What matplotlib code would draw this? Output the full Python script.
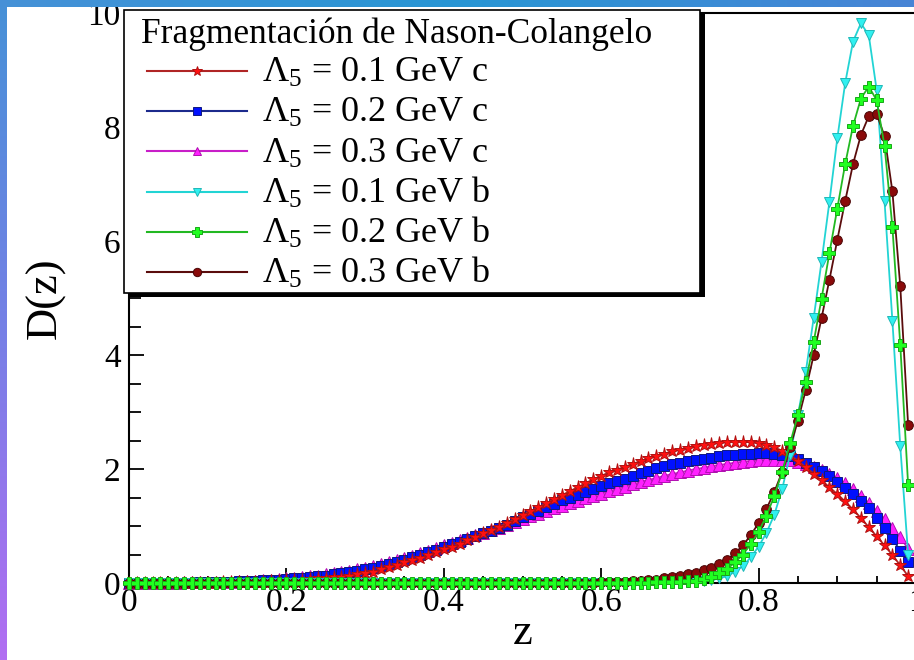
import numpy as np
import matplotlib
matplotlib.use("Agg")
import matplotlib.pyplot as plt
from matplotlib.patches import Rectangle
from matplotlib.lines import Line2D
from matplotlib.ticker import MultipleLocator

plt.rcParams["font.family"] = ["Liberation Serif", "DejaVu Serif"]
plt.rcParams["mathtext.fontset"] = "custom"
plt.rcParams["mathtext.rm"] = "Liberation Serif"
plt.rcParams["mathtext.it"] = "Liberation Serif:italic"
plt.rcParams["mathtext.bf"] = "Liberation Serif:bold"

W, H, DPI = 914, 660, 100

# momentum fraction grid
z = np.linspace(0.0, 0.99, 100)

# charm, Lambda_5 = 0.1 GeV
d_c01 = [0.00, 0.00, 0.00, 0.00, 0.00, 0.00, 0.00, 0.00, 0.00, 0.00,
         0.00, 0.00, 0.01, 0.01, 0.01, 0.02, 0.02, 0.02, 0.03, 0.04,
         0.05, 0.05, 0.06, 0.07, 0.08, 0.09, 0.10, 0.11, 0.13, 0.15,
         0.17, 0.20, 0.24, 0.28, 0.32, 0.36, 0.40, 0.44, 0.49, 0.54,
         0.59, 0.64, 0.69, 0.75, 0.81, 0.87, 0.93, 0.99, 1.05, 1.12,
         1.19, 1.26, 1.33, 1.40, 1.47, 1.54, 1.61, 1.68, 1.75, 1.82,
         1.88, 1.94, 1.99, 2.04, 2.09, 2.14, 2.19, 2.23, 2.27, 2.31,
         2.34, 2.37, 2.40, 2.42, 2.44, 2.46, 2.47, 2.48, 2.48, 2.47,
         2.45, 2.42, 2.38, 2.32, 2.25, 2.14, 2.03, 1.92, 1.80, 1.68,
         1.56, 1.43, 1.29, 1.14, 0.98, 0.82, 0.66, 0.49, 0.31, 0.12]

# charm, Lambda_5 = 0.2 GeV
d_c02 = [0.00, 0.00, 0.00, 0.00, 0.00, 0.00, 0.00, 0.00, 0.00, 0.01,
         0.01, 0.01, 0.02, 0.02, 0.03, 0.03, 0.04, 0.05, 0.06, 0.06,
         0.07, 0.08, 0.09, 0.10, 0.12, 0.13, 0.15, 0.17, 0.19, 0.21,
         0.24, 0.27, 0.30, 0.34, 0.37, 0.41, 0.45, 0.49, 0.54, 0.58,
         0.63, 0.68, 0.72, 0.77, 0.82, 0.87, 0.92, 0.97, 1.02, 1.08,
         1.15, 1.21, 1.27, 1.33, 1.39, 1.45, 1.50, 1.55, 1.60, 1.65,
         1.70, 1.75, 1.79, 1.83, 1.88, 1.93, 1.97, 2.01, 2.05, 2.08,
         2.11, 2.14, 2.16, 2.18, 2.20, 2.22, 2.24, 2.25, 2.26, 2.27,
         2.28, 2.28, 2.27, 2.25, 2.22, 2.17, 2.11, 2.04, 1.96, 1.88,
         1.78, 1.67, 1.56, 1.44, 1.31, 1.14, 0.96, 0.77, 0.57, 0.37]

# charm, Lambda_5 = 0.3 GeV
d_c03 = [0.00, 0.00, 0.00, 0.00, 0.00, 0.00, 0.00, 0.01, 0.01, 0.01,
         0.01, 0.01, 0.02, 0.02, 0.03, 0.03, 0.04, 0.05, 0.06, 0.07,
         0.08, 0.09, 0.10, 0.12, 0.13, 0.15, 0.17, 0.19, 0.21, 0.24,
         0.26, 0.29, 0.33, 0.36, 0.40, 0.44, 0.48, 0.52, 0.57, 0.61,
         0.66, 0.70, 0.75, 0.79, 0.84, 0.88, 0.93, 0.97, 1.02, 1.07,
         1.12, 1.17, 1.21, 1.26, 1.31, 1.35, 1.40, 1.44, 1.49, 1.53,
         1.57, 1.61, 1.65, 1.69, 1.73, 1.77, 1.81, 1.84, 1.88, 1.91,
         1.94, 1.97, 2.00, 2.02, 2.05, 2.07, 2.09, 2.11, 2.13, 2.14,
         2.15, 2.16, 2.16, 2.16, 2.15, 2.13, 2.09, 2.04, 1.98, 1.91,
         1.84, 1.75, 1.65, 1.53, 1.40, 1.26, 1.12, 0.97, 0.80, 0.60]

# bottom, Lambda_5 = 0.1 GeV
d_b01 = [0.00, 0.00, 0.00, 0.00, 0.00, 0.00, 0.00, 0.00, 0.00, 0.00,
         0.00, 0.00, 0.00, 0.00, 0.00, 0.00, 0.00, 0.00, 0.00, 0.00,
         0.00, 0.00, 0.00, 0.00, 0.00, 0.00, 0.00, 0.00, 0.00, 0.00,
         0.00, 0.00, 0.00, 0.00, 0.00, 0.00, 0.00, 0.00, 0.00, 0.00,
         0.00, 0.00, 0.00, 0.00, 0.00, 0.00, 0.00, 0.00, 0.00, 0.00,
         0.00, 0.00, 0.00, 0.00, 0.00, 0.00, 0.00, 0.00, 0.00, 0.00,
         0.00, 0.00, 0.00, 0.00, 0.00, 0.00, 0.00, 0.00, 0.00, 0.00,
         0.01, 0.01, 0.02, 0.03, 0.05, 0.08, 0.12, 0.20, 0.30, 0.45,
         0.64, 0.88, 1.20, 1.65, 2.25, 2.95, 3.71, 4.65, 5.64, 6.69,
         7.80, 8.77, 9.50, 9.82, 9.61, 8.65, 6.70, 4.60, 2.40, 0.50]

# bottom, Lambda_5 = 0.2 GeV
d_b02 = [0.00, 0.00, 0.00, 0.00, 0.00, 0.00, 0.00, 0.00, 0.00, 0.00,
         0.00, 0.00, 0.00, 0.00, 0.00, 0.00, 0.00, 0.00, 0.00, 0.00,
         0.00, 0.00, 0.00, 0.00, 0.00, 0.00, 0.00, 0.00, 0.00, 0.00,
         0.00, 0.00, 0.00, 0.00, 0.00, 0.00, 0.00, 0.00, 0.00, 0.00,
         0.00, 0.00, 0.00, 0.00, 0.00, 0.00, 0.00, 0.00, 0.00, 0.00,
         0.00, 0.00, 0.00, 0.00, 0.00, 0.00, 0.00, 0.00, 0.00, 0.00,
         0.00, 0.00, 0.00, 0.00, 0.00, 0.00, 0.00, 0.01, 0.01, 0.01,
         0.02, 0.03, 0.04, 0.07, 0.11, 0.17, 0.25, 0.36, 0.50, 0.68,
         0.90, 1.18, 1.53, 1.95, 2.45, 2.95, 3.53, 4.23, 4.99, 5.79,
         6.57, 7.35, 8.02, 8.50, 8.71, 8.47, 7.67, 6.25, 4.18, 1.72]

# bottom, Lambda_5 = 0.3 GeV
d_b03 = [0.00, 0.00, 0.00, 0.00, 0.00, 0.00, 0.00, 0.00, 0.00, 0.00,
         0.00, 0.00, 0.00, 0.00, 0.00, 0.00, 0.00, 0.00, 0.00, 0.00,
         0.00, 0.00, 0.00, 0.00, 0.00, 0.00, 0.00, 0.00, 0.00, 0.00,
         0.00, 0.00, 0.00, 0.00, 0.00, 0.00, 0.00, 0.00, 0.00, 0.00,
         0.00, 0.00, 0.00, 0.00, 0.00, 0.00, 0.00, 0.00, 0.00, 0.00,
         0.00, 0.00, 0.00, 0.00, 0.00, 0.00, 0.00, 0.00, 0.00, 0.00,
         0.01, 0.01, 0.02, 0.02, 0.03, 0.04, 0.05, 0.06, 0.08, 0.10,
         0.12, 0.15, 0.18, 0.22, 0.27, 0.33, 0.41, 0.52, 0.66, 0.84,
         1.05, 1.30, 1.60, 1.95, 2.38, 2.85, 3.39, 4.00, 4.65, 5.32,
         6.02, 6.70, 7.35, 7.86, 8.19, 8.23, 7.84, 6.87, 5.21, 2.77]

legend_title = "Fragmentación de Nason-Colangelo"
labels = [r"$\Lambda_5$ = 0.1 GeV c", r"$\Lambda_5$ = 0.2 GeV c",
          r"$\Lambda_5$ = 0.3 GeV c", r"$\Lambda_5$ = 0.1 GeV b",
          r"$\Lambda_5$ = 0.2 GeV b", r"$\Lambda_5$ = 0.3 GeV b"]
x_ticks = [0, 0.2, 0.4, 0.6, 0.8, 1.0]
x_ticklabels = ["0", "0.2", "0.4", "0.6", "0.8", "1"]
y_ticks = [0, 2, 4, 6, 8, 10]
y_ticklabels = ["0", "2", "4", "6", "8", "10"]

values = [d_c01, d_c02, d_c03, d_b01, d_b02, d_b03]
# line colour, marker, face colour, edge colour, marker size
styles = [
    ("#b02525", "*", "#ff1010", "#b01010", 9.5),
    ("#1c2a8c", "s", "#0010ff", "#101880", 7.0),
    ("#c81ec8", "^", "#ff20ff", "#b010b0", 8.0),
    ("#22d4d4", "v", "#30f0f0", "#20b8b8", 7.5),
    ("#22b822", "P", "#20ff20", "#18a818", 8.5),
    ("#5a0c0c", "o", "#8a0a0a", "#4a0606", 7.0),
]
legend_ms = [7.5, 5.5, 6.0, 6.0, 7.0, 6.0]
draw_order = [2, 1, 0, 3, 5, 4]

fig = plt.figure(figsize=(W / DPI, H / DPI), dpi=DPI, facecolor="white")


def fpx(x, y):
    return x / W, 1 - y / H


ax = fig.add_axes([129 / W, 1 - 583 / H, 787 / W, 570 / H])
ax.set_facecolor("white")

for k, i in enumerate(draw_order):
    lc, mk, fc, ec, ms = styles[i]
    ax.plot(z, values[i], color=lc, lw=1.3, marker=mk, ms=ms,
            mfc=fc, mec=ec, mew=0.7, clip_on=False, zorder=3 + k)

ax.set_xlim(0, 1)
ax.set_ylim(0, 10)
ax.set_xticks(x_ticks)
ax.set_xticklabels(x_ticklabels)
ax.set_yticks(y_ticks)
ax.set_yticklabels(y_ticklabels)
ax.xaxis.set_minor_locator(MultipleLocator(0.05))
ax.yaxis.set_minor_locator(MultipleLocator(0.5))
ax.tick_params(which="both", direction="in", top=False, right=False,
               width=1.3, color="black", labelsize=24)
ax.tick_params(axis="x", which="major", length=11, pad=3.5)
ax.tick_params(axis="x", which="minor", length=5)
ax.tick_params(axis="y", which="major", length=11, pad=6)
ax.tick_params(axis="y", which="minor", length=8.5)
for sp in ax.spines.values():
    sp.set_linewidth(1.5)

ax.set_ylabel("D(z)", fontsize=32)
ax.yaxis.set_label_coords(-(129 - 46) / 787, 0.5)
ax.yaxis.label.set_va("center")
ax.set_xlabel("z", fontsize=32)
ax.xaxis.set_label_coords((523 - 129) / 787, -(633 - 583) / 570)
ax.xaxis.label.set_va("center")

# legend box with drop shadow
x0, y0, x1, y1 = 124, 10, 700, 293
shadow = Rectangle(fpx(x0 + 5, y1 + 4), (x1 - x0) / W, (y1 - y0) / H,
                   transform=fig.transFigure, facecolor="black",
                   edgecolor="black", lw=0, zorder=19)
box = Rectangle(fpx(x0, y1), (x1 - x0) / W, (y1 - y0) / H,
                transform=fig.transFigure, facecolor="white",
                edgecolor="black", lw=1.2, zorder=20)
fig.add_artist(shadow)
fig.add_artist(box)
fig.text(141 / W, 1 - 43 / H, legend_title, fontsize=25.5, ha="left",
         va="baseline", zorder=21)
for i, lab in enumerate(labels):
    lc, mk, fc, ec, ms = styles[i]
    yy = 71 + 40.2 * i
    fig.add_artist(Line2D([147 / W, 247 / W], [1 - yy / H] * 2,
                          transform=fig.transFigure, color=lc, lw=1.5,
                          zorder=21))
    fig.add_artist(Line2D([197 / W], [1 - yy / H], transform=fig.transFigure,
                          marker=mk, ms=legend_ms[i], mfc=fc, mec=ec, mew=0.7,
                          lw=0, zorder=22))
    fig.text(262 / W, 1 - (yy + 11) / H, lab, fontsize=26, ha="left",
             va="baseline", zorder=21)

# slide frame: gradient strips along the top and left edges
tl = np.array([70, 145, 215]) / 255
tm = np.array([40, 150, 212]) / 255
tr = np.array([72, 132, 214]) / 255
ml = np.array([118, 128, 230]) / 255
bl = np.array([178, 110, 242]) / 255

tx = np.linspace(0, 1, W)
top = np.stack([np.interp(tx, [0, 0.5, 1], [tl[c], tm[c], tr[c]]) for c in range(3)], axis=-1)
ty = np.linspace(0, 1, H)
left = np.stack([np.interp(ty, [0, 0.5, 1], [tl[c], ml[c], bl[c]]) for c in range(3)], axis=-1)

ax_top = fig.add_axes([0, 1 - 7 / H, 1, 7 / H], zorder=30)
ax_top.imshow(top[None, :, :], aspect="auto", interpolation="bilinear")
ax_top.axis("off")
ax_left = fig.add_axes([0, 0, 7 / W, 1], zorder=31)
ax_left.imshow(left[:, None, :], aspect="auto", interpolation="bilinear")
ax_left.axis("off")

fig.savefig("out.png", dpi=DPI)
